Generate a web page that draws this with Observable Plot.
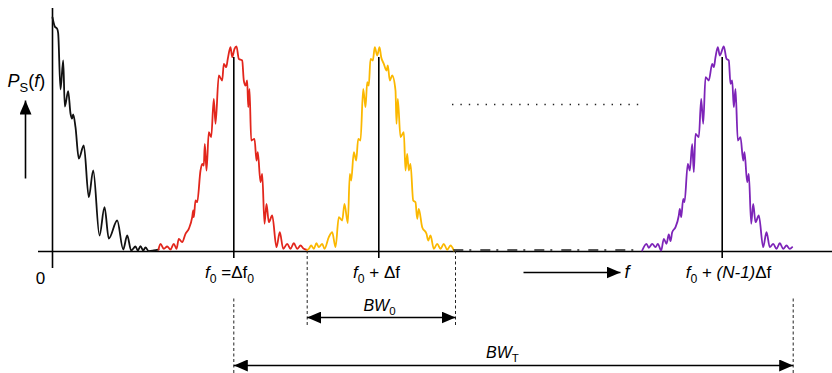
<!DOCTYPE html>
<html><head><meta charset="utf-8">
<script src="https://cdn.jsdelivr.net/npm/d3@7"></script>
<script src="https://cdn.jsdelivr.net/npm/@observablehq/plot@0.6"></script>
<style>
body{margin:0;background:#fff}
svg{font-family:"Liberation Sans",Arial,Helvetica,sans-serif}
</style>
</head><body><div id="chart"></div>
<script>
// frequency (arbitrary units, 0 = DC) and power spectral density (arbitrary units)
const baseband = [[0,234],[2.3,225],[4.7,222.7],[5.7,218],[8,162],[10.7,191],[12.3,145],[15.7,160.3],[18,138],[19.5,133],[20.7,137],[23,124.3],[26.3,93],[31.3,106],[36.3,54.3],[40.7,81],[47,16],[52,44.3],[56.3,13],[64.7,31],[70.7,2],[74.7,16],[78.7,1],[83,5],[85.3,1],[88,5.3],[90.7,1],[93,4],[96.3,0.3],[101.3,1],[106,2]];
const channel0 = [[106,2],[108,7.7],[111.3,2.7],[114.7,5],[118,2],[121.3,7.7],[124,2.7],[126.3,12.7],[129.7,9.3],[133,17.7],[136.3,22.7],[139.7,34.3],[140.7,41],[141.3,34.3],[143,51],[144.7,49.3],[148,81],[149.7,87.7],[151.3,86],[152.3,107.7],[154,81],[156.3,119.3],[158.7,114.3],[161.3,152.7],[163,127.7],[166.3,176],[169.7,171],[171.3,187.7],[173.7,184.3],[175.3,192.7],[178,204.3],[179.7,194.3],[182,202.7],[184,205],[186.3,192.7],[189.7,191],[191.3,171],[193,166],[194.7,171],[195.7,144.3],[197,162.7],[198.7,111],[202,112.7],[204,91],[205.3,99.3],[208,69.3],[209.7,77.7],[212,27.7],[214,47.7],[216.3,29.3],[219.7,36],[224,4.3],[227.3,19.3],[230.7,2.7],[234.7,7.7],[238,2.7],[241.3,8.3],[244.7,2.7],[248,6],[251.3,2.7],[254.7,1.7]];
const channel1 = [[254.7,1.7],[256.3,2.7],[258.7,6],[261.3,2.7],[264,8.3],[266.3,4.3],[269.7,7.7],[272,2.7],[276.3,14.3],[279.7,19.3],[283,4.3],[286.3,34.3],[289.7,31],[292,47.7],[295.3,28.3],[297.3,77.7],[298.7,71],[301.3,99.3],[303.7,91],[305.7,112.7],[308,111],[310.7,162.7],[313,144.3],[314.7,169.3],[316.3,166],[318,192.7],[320.3,191],[322.3,204.3],[324.7,196],[327,204.3],[328.7,194.3],[331.3,187.7],[334,181],[335.3,186],[337.3,171],[339.7,176],[343,161],[344,127.7],[345.3,152.7],[348,114.3],[351.3,119.3],[353,81],[354.7,97.7],[356.3,81],[358,87.7],[360.7,51],[363,49.3],[364.7,32.7],[366.3,42.7],[369.7,24.3],[374,17.7],[375.7,11],[378,16],[381.3,2.7],[384.7,7.7],[388,2.7],[391.3,7.7],[394.7,1.7],[398,6],[401.3,1]];
const channelN = [[589.7,1],[594,7.7],[596.3,3.7],[599.7,7.7],[603,4.3],[605.3,7.7],[608.7,1],[611.3,12.7],[614,7.7],[616.3,17],[618,10.3],[619.7,19.3],[623,24.3],[626.3,36],[627.3,42.7],[628.7,34.3],[630.7,52.7],[632,49.3],[635.3,87.7],[637.3,81],[639.7,107.7],[641.3,79.3],[643,117.7],[646.3,114.3],[648.7,152.7],[650.7,127.7],[653,174.3],[656.3,171],[659.7,187.7],[661.3,184.3],[663,194.3],[665.3,204.3],[667.3,196],[671.3,205],[674,192.7],[676.3,191],[678,167.7],[679.7,171],[681.3,144.3],[683,162.7],[685.3,111],[688,114.3],[690.7,91],[692,99.3],[694.7,69.3],[696.3,77.7],[698.7,27.7],[700.7,47.7],[703,29.3],[706.3,36],[710.7,4.3],[714,19.3],[717.3,4.3],[720.7,7.7],[724,2.7],[727.3,8.3],[730.7,2.7],[734,6],[737.3,2.7],[739.7,4.3]];

// carrier frequencies and their labels
const carriers = [181.3, 326.3, 669.7];
const carrierLabels = ["<i>f</i><sub>0</sub> =Δf<sub>0</sub>", "<i>f</i><sub>0</sub> + Δf", "<i>f</i><sub>0</sub> + <i>(N-1)</i>Δf"];
const carrierLabelX = [177, 324, 676];
const peakPower = 194;

// bandwidth markers
const bw0 = [254.7, 403];
const bwT = [181.3, 740.7];
const bwLabels = [{f: 327, p: -54, t: "<i>BW</i><sub>0</sub>"}, {f: 450, p: -101, t: "<i>BW</i><sub>T</sub>"}];

const colors = {baseband: "#111111", channel0: "#e2261c", channel1: "#fbb800", channelN: "#7d24b8"};

const rows = (pts, s) => pts.map(([f, p]) => ({f, p, s}));

function head(orient) {
  return (color) => {
    const m = d3.create("svg:marker")
      .attr("viewBox", "-14 -6 14 12")
      .attr("markerWidth", 14).attr("markerHeight", 12)
      .attr("markerUnits", "userSpaceOnUse")
      .attr("orient", orient);
    m.append("path").attr("d", "M-14,-6L0,0L-14,6Z").attr("fill", color).attr("stroke", "none");
    return m.node();
  };
}
const headEnd = head("auto"), headStart = head("auto-start-reverse");

const chart = Plot.plot({
  width: 832, height: 373, margin: 0,
  x: {domain: [-52, 780], axis: null},
  y: {domain: [-122, 251], axis: null},
  style: {background: "#fff"},
  marks: [
    // axes
    Plot.ruleY([0], {x1: -14, x2: 780, stroke: "#000", strokeWidth: 1.6}),
    Plot.ruleX([0], {y1: -17, y2: 243, stroke: "#000", strokeWidth: 1.6}),
    // carrier center lines
    Plot.ruleX(carriers, {y1: -7, y2: peakPower, stroke: "#000", strokeWidth: 1.6}),
    // spectra
    Plot.line(rows(baseband, "baseband"), {x: "f", y: "p", stroke: colors.baseband, strokeWidth: 1.8, curve: "monotone-x"}),
    Plot.line(rows(channel0, "channel0"), {x: "f", y: "p", stroke: colors.channel0, strokeWidth: 1.8, curve: "monotone-x"}),
    Plot.line(rows(channel1, "channel1"), {x: "f", y: "p", stroke: colors.channel1, strokeWidth: 1.8, curve: "monotone-x"}),
    Plot.line(rows(channelN, "channelN"), {x: "f", y: "p", stroke: colors.channelN, strokeWidth: 1.8, curve: "monotone-x"}),
    // gap in spectrum: dash-dot along baseline and dotted ellipsis
    Plot.ruleY([1.5], {x1: 401.3, x2: 590, stroke: "#222", strokeWidth: 1.5, strokeDasharray: "10,6,2,9"}),
    Plot.ruleY([147], {x1: 400, x2: 590, stroke: "#222", strokeWidth: 1.4, strokeDasharray: "1.4,7"}),
    // bandwidth dashed guides
    Plot.ruleX(bw0, {y1: -74, y2: 0, stroke: "#222", strokeWidth: 1, strokeDasharray: "3,2.5"}),
    Plot.ruleX(bwT, {y1: -122, y2: -46, stroke: "#222", strokeWidth: 1, strokeDasharray: "3,2.5"}),
    // arrows
    Plot.link([{x1: bw0[0], x2: bw0[1], y: -66}], {x1: "x1", x2: "x2", y1: "y", y2: "y", stroke: "#000", strokeWidth: 1.4, markerStart: headStart, markerEnd: headEnd}),
    Plot.link([{x1: bwT[0], x2: bwT[1], y: -114}], {x1: "x1", x2: "x2", y1: "y", y2: "y", stroke: "#000", strokeWidth: 1.4, markerStart: headStart, markerEnd: headEnd}),
    Plot.link([{x1: 471, x2: 568, y: -21}], {x1: "x1", x2: "x2", y1: "y", y2: "y", stroke: "#000", strokeWidth: 1.6, markerEnd: headEnd}),
    Plot.link([{x: -27, y1: 73, y2: 151}], {x1: "x", x2: "x", y1: "y1", y2: "y2", stroke: "#000", strokeWidth: 1.6, markerEnd: headEnd}),
    // labels
    Plot.text(carrierLabels, {x: (d, i) => carrierLabelX[i], y: -21, text: d => d, fontSize: 17, fill: "#000"}),
    Plot.text(bwLabels, {x: "f", y: "p", text: "t", fontSize: 16, fill: "#000"}),
    Plot.text(["0"], {x: -12, y: -27, text: d => d, fontSize: 17, fill: "#000"}),
    Plot.text(["<i>f</i>"], {x: 572, y: -21, text: d => d, fontSize: 18, textAnchor: "start", fill: "#000"}),
    Plot.text(["<i>P</i><sub>S</sub>(<i>f</i>)"], {x: -45, y: 170, text: d => d, fontSize: 18, textAnchor: "start", fill: "#000"})
  ]
});
document.getElementById("chart").appendChild(chart);

// rich-text labels: italics and subscripts as tspans
chart.querySelectorAll("text").forEach(t => {
  const s = t.textContent;
  if (!s.includes("<")) return;
  const fs = parseFloat(getComputedStyle(t).fontSize) || 16;
  const shift = 0.28 * fs;
  t.textContent = "";
  const re = /<(i|sub)>(.*?)<\/\1>|([^<]+)/g;
  let m, lowered = false;
  while ((m = re.exec(s))) {
    const ts = document.createElementNS("http://www.w3.org/2000/svg", "tspan");
    if (m[3] !== undefined) {
      ts.textContent = m[3];
      if (lowered) { ts.setAttribute("dy", -shift); lowered = false; }
    } else if (m[1] === "i") {
      ts.textContent = m[2];
      ts.setAttribute("font-style", "italic");
      if (lowered) { ts.setAttribute("dy", -shift); lowered = false; }
    } else {
      ts.textContent = m[2];
      ts.setAttribute("font-size", 0.72 * fs);
      ts.setAttribute("dy", shift);
      lowered = true;
    }
    t.appendChild(ts);
  }
});
</script>
</body></html>
